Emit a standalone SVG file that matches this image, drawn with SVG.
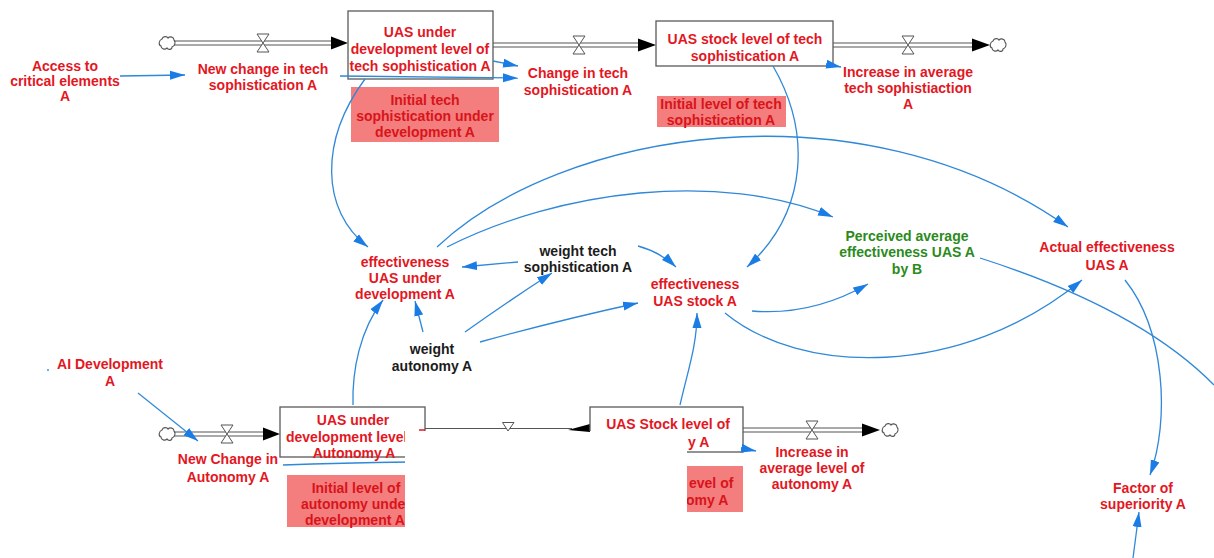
<svg xmlns="http://www.w3.org/2000/svg" width="1214" height="558" viewBox="0 0 1214 558">
<defs>
<style>
text{font-family:"Liberation Sans",Arial,sans-serif;font-size:14px;font-weight:bold;text-anchor:middle}
.r{fill:#e3171f}
.rs{fill:#d8141b}
.g{fill:#2b8a1c}
.k{fill:#1c1c1c}
.st{text-anchor:start}
.stock{fill:#fff;stroke:#5a5a5a;stroke-width:1.3}
.shade{fill:#f47d7d}
.pipe{stroke:#555;stroke-width:1.1;fill:none}
.link{fill:none;stroke:#2f88d8;stroke-width:1.3}
.arr{marker-end:url(#ah)}
.valve{fill:#fff;stroke:#555;stroke-width:1}
.cloud{fill:#fff;stroke:#555;stroke-width:1.1}
.head{fill:#000}
.bh{fill:#1a7de6}
</style>
<marker id="ah" markerUnits="userSpaceOnUse" markerWidth="16" markerHeight="10" refX="15" refY="5" orient="auto"><path d="M0,0.5 L15,5 L0,9.5 Z" fill="#1a7de6"/></marker>
<path id="cloud" d="M-5,-4 C-4,-7 0,-7 1,-5 C3,-7 7,-6 7,-3 C9,-1 8,3 5,4 C5,7 1,7 0,5 C-2,7 -6,6 -6,3 C-9,2 -8,-3 -5,-4 Z"/>
<polygon id="valve" points="-6,-9 6,-9 -6,9 6,9"/>
<clipPath id="erase" clipPathUnits="userSpaceOnUse"><path clip-rule="evenodd" d="M0,0H1214V558H0Z M405,431H687V558H405Z"/></clipPath>
</defs>
<rect width="1214" height="558" fill="#fff"/>

<g id="flows">
  <!-- top flow 1 -->
  <use href="#cloud" class="cloud" x="167" y="43"/>
  <line class="pipe" x1="174" y1="41" x2="334" y2="41"/>
  <line class="pipe" x1="174" y1="45" x2="334" y2="45"/>
  <use href="#valve" class="valve" x="263" y="43"/>
  <polygon class="head" points="331,36.5 348,43 331,49.5"/>
  <!-- top flow 2 -->
  <line class="pipe" x1="493" y1="43" x2="641" y2="43"/>
  <line class="pipe" x1="493" y1="47" x2="641" y2="47"/>
  <use href="#valve" class="valve" x="579" y="45"/>
  <polygon class="head" points="638,38.5 656,45 638,51.5"/>
  <!-- top flow 3 -->
  <line class="pipe" x1="833" y1="43" x2="975" y2="43"/>
  <line class="pipe" x1="833" y1="47" x2="975" y2="47"/>
  <use href="#valve" class="valve" x="908" y="45"/>
  <polygon class="head" points="972,38.5 990,45 972,51.5"/>
  <use href="#cloud" class="cloud" x="998" y="45"/>
  <!-- bottom flow 1 -->
  <use href="#cloud" class="cloud" x="167" y="434"/>
  <line class="pipe" x1="174" y1="432" x2="266" y2="432"/>
  <line class="pipe" x1="174" y1="436" x2="266" y2="436"/>
  <use href="#valve" class="valve" x="227" y="434"/>
  <polygon class="head" points="263,427.5 280,434 263,440.5"/>
  <!-- bottom single flow -->
  <line class="pipe" x1="425" y1="428.5" x2="572" y2="428.5"/>
  <polygon class="valve" points="502.5,422.5 514,422.5 508,431"/>
  <polygon class="head" points="568,430 590,424 590,432"/>
  <!-- bottom flow 2 -->
  <line class="pipe" x1="743" y1="428" x2="866" y2="428"/>
  <line class="pipe" x1="743" y1="432" x2="866" y2="432"/>
  <use href="#valve" class="valve" x="812" y="430"/>
  <polygon class="head" points="862,423.5 880,430 862,436.5"/>
  <use href="#cloud" class="cloud" x="890" y="430"/>
</g>

<g id="stock-dev-tech">
  <rect class="stock" x="348" y="11" width="145" height="68"/>
  <text class="r" x="420" y="37">UAS under</text>
  <text class="r" x="420" y="54">development level of</text>
  <text class="r" x="420" y="71">tech sophistication A</text>
</g>
<g id="stock-tech">
  <rect class="stock" x="656" y="21" width="177" height="45"/>
  <text class="r" x="745" y="44">UAS stock level of tech</text>
  <text class="r" x="745" y="61">sophistication A</text>
</g>
<g id="init-dev-tech">
  <rect class="shade" x="351" y="87" width="148" height="55"/>
  <text class="rs" x="425" y="105">Initial tech</text>
  <text class="rs" x="425" y="121">sophistication under</text>
  <text class="rs" x="425" y="137">development A</text>
</g>
<g id="init-tech">
  <rect class="shade" x="657" y="96" width="129" height="31"/>
  <text class="rs" x="721" y="109">Initial level of tech</text>
  <text class="rs" x="721" y="125">sophistication A</text>
</g>
<g id="access">
  <text class="r" x="65" y="71">Access to</text>
  <text class="r" x="65" y="86">critical elements</text>
  <text class="r" x="65" y="101">A</text>
</g>
<g id="new-change-tech">
  <text class="r" x="263" y="74">New change in tech</text>
  <text class="r" x="263" y="90">sophistication A</text>
</g>
<g id="change-tech">
  <text class="r" x="578" y="78">Change in tech</text>
  <text class="r" x="578" y="95">sophistication A</text>
</g>
<g id="increase-tech">
  <text class="r" x="908" y="77">Increase in average</text>
  <text class="r" x="908" y="93">tech sophistiaction</text>
  <text class="r" x="908" y="109">A</text>
</g>
<g id="eff-dev">
  <text class="r" x="405" y="267">effectiveness</text>
  <text class="r" x="405" y="283">UAS under</text>
  <text class="r" x="405" y="299">development A</text>
</g>
<g id="weight-tech">
  <text class="k" x="578" y="256">weight tech</text>
  <text class="k" x="578" y="272">sophistication A</text>
</g>
<g id="eff-stock">
  <text class="r" x="695" y="289">effectiveness</text>
  <text class="r" x="695" y="306">UAS stock A</text>
</g>
<g id="weight-autonomy">
  <text class="k" x="432" y="354">weight</text>
  <text class="k" x="432" y="371">autonomy A</text>
</g>
<g id="perceived">
  <text class="g" x="907" y="241">Perceived average</text>
  <text class="g" x="907" y="257">effectiveness UAS A</text>
  <text class="g" x="907" y="274">by B</text>
</g>
<g id="actual">
  <text class="r" x="1107" y="252">Actual effectiveness</text>
  <text class="r" x="1107" y="270">UAS A</text>
</g>
<g id="factor">
  <text class="r" x="1143" y="493">Factor of</text>
  <text class="r" x="1143" y="509">superiority A</text>
</g>
<g id="ai-dev">
  <circle cx="48" cy="370" r="0.9" fill="#2f88d8"/>
  <text class="r" x="110" y="369">AI Development</text>
  <text class="r" x="110" y="386">A</text>
</g>
<g id="new-change-autonomy">
  <text class="r" x="228" y="464">New Change in</text>
  <text class="r" x="228" y="482">Autonomy A</text>
</g>
<g id="increase-autonomy">
  <text class="r" x="812" y="457">Increase in</text>
  <text class="r" x="812" y="473">average level of</text>
  <text class="r" x="812" y="489">autonomy A</text>
</g>
<g id="stock-dev-autonomy" clip-path="url(#erase)">
  <rect class="stock" x="280" y="407" width="145" height="50"/>
  <line x1="419" y1="430" x2="425" y2="430" stroke="#e3171f" stroke-width="1.5"/>
  <text class="r" x="353" y="425">UAS under</text>
  <text class="r st" x="286" y="442">development level</text>
  <text class="r" x="354" y="458">Autonomy A</text>
</g>
<g id="init-dev-autonomy" clip-path="url(#erase)">
  <rect class="shade" x="287" y="475" width="130" height="52"/>
  <text class="rs" x="356" y="493">Initial level of</text>
  <text class="rs st" x="301" y="509">autonomy unde</text>
  <text class="rs st" x="305" y="525">development A</text>
</g>
<g id="stock-autonomy" clip-path="url(#erase)">
  <rect class="stock" x="590" y="407" width="153" height="45"/>
  <text class="r" x="668" y="429">UAS Stock level of</text>
  <text class="r st" x="688" y="447">y A</text>
</g>
<g id="init-autonomy" clip-path="url(#erase)">
  <rect class="shade" x="687" y="466" width="56" height="46"/>
  <text class="rs st" x="689" y="488">evel of</text>
  <text class="rs st" x="686" y="505">omy A</text>
</g>

<g id="connectors">
  <path class="link arr" d="M120,76 L185,75"/>
  <path class="link arr" d="M340,76 L518,78"/>
  <path class="link arr" d="M493,61 L518,66"/>
  <path class="link arr" d="M826,64 L841,67"/>
  <path class="link arr" d="M365,79 C320,140 320,210 368,247"/>
  <path class="link arr" d="M773,66 C810,130 810,210 747,267"/>
  <path class="link arr" d="M518,262 L462,267"/>
  <path class="link arr" d="M638,246 Q660,252 676,267"/>
  <path class="link arr" d="M423,332 L415,301"/>
  <path class="link arr" d="M465,332 Q510,300 552,273"/>
  <path class="link arr" d="M480,342 Q560,320 638,303"/>
  <path class="link arr" d="M353,405 C352,370 360,330 383,300"/>
  <path class="link arr" d="M680,405 C688,370 697,345 697,313"/>
  <path class="link arr" d="M437,247 C560,130 860,80 1068,227"/>
  <path class="link arr" d="M447,247 C560,190 720,170 833,217"/>
  <path class="link arr" d="M752,311 C800,315 840,300 868,284"/>
  <path class="link arr" d="M725,313 C800,375 960,380 1082,280"/>
  <path class="link" d="M980,258 C1080,290 1160,330 1214,385"/>
  <path class="link arr" d="M1125,280 C1165,330 1170,420 1150,475"/>
  <path class="link arr" d="M1133,558 L1139,512"/>
  <path class="link arr" d="M138,393 L198,441"/>
  <path class="link" clip-path="url(#erase)" d="M283,465 Q340,463 410,462"/>
  <path class="link arr" d="M741,448 L756,451"/>
</g>
</svg>
